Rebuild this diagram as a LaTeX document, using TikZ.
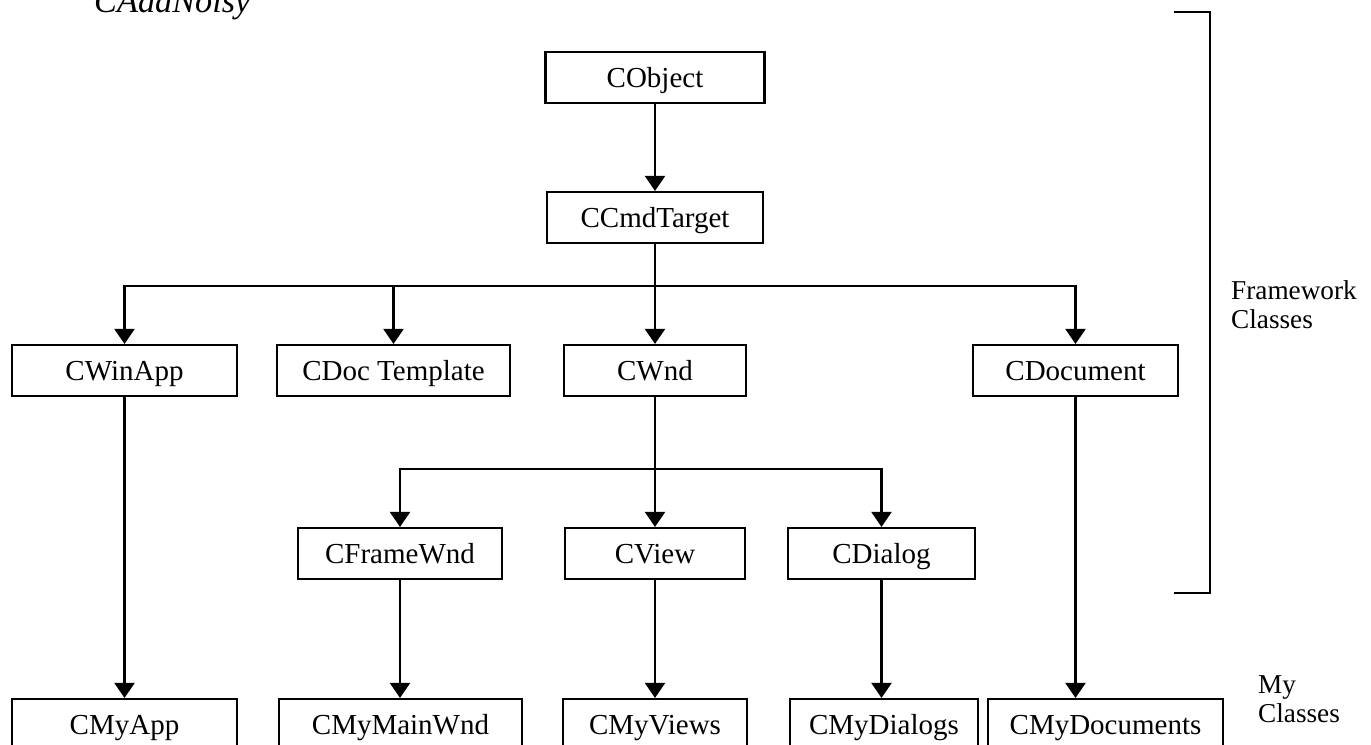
\documentclass[tikz,border=0pt]{standalone}
\usepackage{fontspec}
\setmainfont{Liberation Serif}
\usetikzlibrary{arrows.meta}

\begin{document}
\begin{tikzpicture}[>={Triangle[width=4mm,length=3mm]},
  font=\fontsize{16.5}{17.5}\selectfont,
  cls/.style={draw,line width=1.2pt,minimum height=1.02cm,inner sep=0pt,
    text height=12.5pt,text depth=1.5pt},
  inh/.style={->,line width=1.2pt},
  brace/.style={line width=1.6pt},
  side/.style={align=left,anchor=west,font=\fontsize{15.5}{16.5}\selectfont}]
\useasboundingbox (0,0) rectangle (27.42,-14.9);
\node[anchor=base west,font=\fontsize{19.5}{20}\selectfont\itshape] (title) at (1.76,-0.25) {CAddNoisy};
\node[cls,minimum width=4.38cm] (obj) at (13.1,-1.55) {CObject};
\node[cls,minimum width=4.32cm] (cmd) at (13.1,-4.35) {CCmdTarget};
\foreach \n/\x/\w/\t in {winapp/2.49/4.5/CWinApp,doctpl/7.87/4.66/CDoc Template,
    wnd/13.1/3.64/CWnd,document/21.51/4.1/CDocument}
  \node[cls,minimum width=\w cm] (\n) at (\x,-7.41) {\t};
\foreach \n/\x/\w/\t in {frame/8.0/4.08/CFrameWnd,view/13.1/3.6/CView,dialog/17.63/3.74/CDialog}
  \node[cls,minimum width=\w cm] (\n) at (\x,-11.07) {\t};
\foreach \n/\x/\w/\t in {myapp/2.49/4.5/CMyApp,mainwnd/8.01/4.86/CMyMainWnd,myviews/13.1/3.68/CMyViews,
    mydialogs/17.68/3.76/CMyDialogs,mydocs/22.11/4.7/CMyDocuments}
  \node[cls,minimum width=\w cm] (\n) at (\x,-14.49) {\t};
\coordinate (busA) at (0,-5.72);
\coordinate (busB) at (0,-9.38);
\draw[inh] (obj) -- (cmd);
\foreach \n in {winapp,doctpl,wnd,document}
  \draw[inh] (cmd.south) -- (cmd.south |- busA) -| (\n.north);
\foreach \n in {frame,view,dialog}
  \draw[inh] (wnd.south) -- (wnd.south |- busB) -| (\n.north);
\foreach \a/\b in {winapp/myapp,frame/mainwnd,view/myviews,dialog/mydialogs,document/mydocs}
  \draw[inh] (\a.south) -- (\a.south |- \b.north);
\draw[brace] (23.48,-0.24) -| (24.2,-11.86) -- (23.48,-11.86);
\node[side] (fw) at (24.5,-6.1) {Framework\\Classes};
\node[side] (my) at (25.04,-13.98) {My\\Classes};
\end{tikzpicture}
\end{document}
